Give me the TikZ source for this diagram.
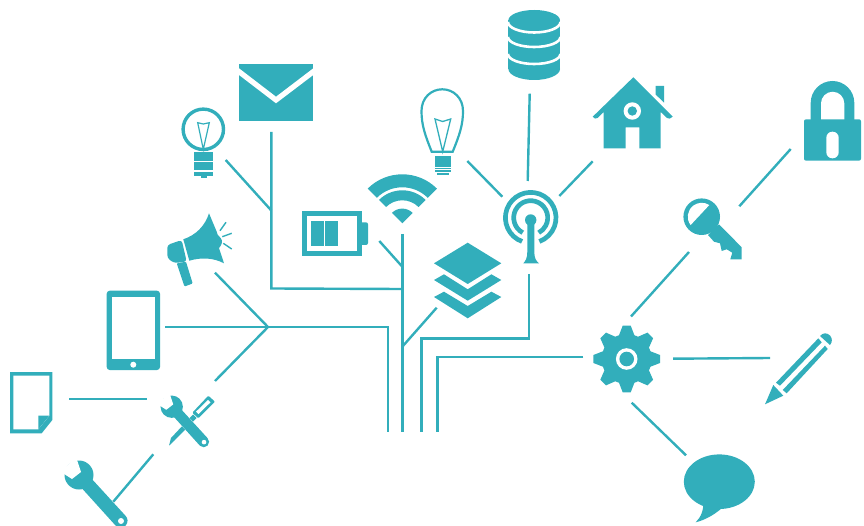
\documentclass[tikz,border=0pt]{standalone}
\usepackage{tikz}
\usepackage[dvipsnames]{xcolor}
\usetikzlibrary{calc}
\definecolor{iconteal}{RGB}{50,174,187}
\tikzset{
    wire/.style={draw=iconteal, line width=2.4pt},
    icon/.style={fill=iconteal},
    cutout/.style={fill=white},
    outline/.style={draw=iconteal, line width=#1},
    wrenchicon/.pic={
        \fill[icon] (0,0) circle (14.5);
        \fill[icon] (-4.6,5.0) -- (36.8,50.8) arc (133:-47:7) -- (5.0,-4.6) -- cycle;
        \fill[cutout] (-3,-18) -- (2,-3) -- (-7,4) -- (-18,-3) -- cycle;
        \fill[cutout] (42,46) circle (3);
    }
}
\begin{document}
\begin{tikzpicture}[x=1pt, y=1pt, yscale=-1]
    \useasboundingbox (0,0) rectangle (864,526);

    \coordinate (hub) at (268,327);
    \coordinate (horn-end) at (215,272.7);
    \coordinate (tablet-end) at (165,327);
    \coordinate (tools-end) at (215,381);
    \coordinate (doc-end) at (69,398.7);
    \coordinate (tools-left) at (147.3,398.7);
    \coordinate (tools-low) at (153.3,454.3);
    \coordinate (wrench-end) at (113.3,501.7);
    \coordinate (bulb-end) at (225.7,160);
    \coordinate (bulb-join) at (271.3,210.5);
    \coordinate (mail-end) at (271.3,132);
    \coordinate (mail-corner) at (271.3,288.5);
    \coordinate (mail-join) at (402.3,289);
    \coordinate (wifi-end) at (402.3,234);
    \coordinate (bus-a) at (387.7,431.7);
    \coordinate (bus-b) at (402.3,431.7);
    \coordinate (bus-c) at (421.5,431.7);
    \coordinate (bus-d) at (437.3,431.7);
    \coordinate (battery-end) at (379.3,241);
    \coordinate (battery-join) at (402.3,266.7);
    \coordinate (stack-end) at (436.7,307.7);
    \coordinate (stack-join) at (402.3,346.7);
    \coordinate (mast-end) at (528.7,274);
    \coordinate (gear-left) at (583.3,356.7);
    \coordinate (db-end) at (529.7,93.7);
    \coordinate (db-low) at (527.7,181);
    \coordinate (bulbtwo-end) at (467.3,161);
    \coordinate (bulbtwo-low) at (502.3,196.7);
    \coordinate (house-end) at (592.7,161.3);
    \coordinate (house-low) at (559.3,196);
    \coordinate (lock-end) at (790.7,149);
    \coordinate (key-up) at (739.3,206.3);
    \coordinate (key-down) at (689,252);
    \coordinate (gear-up) at (631,316.5);
    \coordinate (gear-right) at (673,358.7);
    \coordinate (pencil-end) at (770,358);
    \coordinate (gear-down) at (631.7,402.7);
    \coordinate (bubble-end) at (686,455.3);

    \draw[wire] (horn-end) -- (hub) -- (tools-end);
    \draw[wire] (tablet-end) -- (hub) -- (387.7,327) -- (bus-a);
    \draw[wire] (doc-end) -- (tools-left);
    \draw[wire] (tools-low) -- (wrench-end);
    \draw[wire] (bulb-end) -- (bulb-join);
    \draw[wire] (mail-end) -- (mail-corner) -- (mail-join);
    \draw[wire] (wifi-end) -- (bus-b);
    \draw[wire] (battery-end) -- (battery-join);
    \draw[wire] (stack-end) -- (stack-join);
    \draw[wire] (mast-end) -- (528.7,338.3) -- (421.5,338.3) -- (bus-c);
    \draw[wire] (gear-left) -- (437.3,356.7) -- (bus-d);
    \draw[wire] (db-end) -- (db-low);
    \draw[wire] (bulbtwo-end) -- (bulbtwo-low);
    \draw[wire] (house-end) -- (house-low);
    \draw[wire] (lock-end) -- (key-up);
    \draw[wire] (key-down) -- (gear-up);
    \draw[wire] (gear-right) -- (pencil-end);
    \draw[wire] (gear-down) -- (bubble-end);

    \fill[icon] (10,372) -- (52.3,372) -- (52.3,420) -- (41.7,433.3) -- (10,433.3) -- cycle;
    \fill[cutout] (13.3,375.7) -- (49.3,375.7) -- (49.3,415.7) -- (38.3,429.3) -- (13.3,429.3) -- cycle;
    \fill[icon] (38.3,415.7) -- (49.3,415.7) -- (38.3,429.3) -- cycle;

    \fill[icon, rounded corners=3pt] (106.7,290.7) rectangle (160,370);
    \fill[cutout] (111.7,297.3) rectangle (155,359);
    \fill[cutout] (133.3,364.7) circle (3);

    \pic[transform shape] at (79,475) {wrenchicon};

    \fill[icon] (169,445.7) -- (171,438) -- (193,414.5) -- (196.5,418) -- (174.5,440.5) -- cycle;
    \fill[icon, rounded corners=1pt] (208.3,395.7) -- (215,401.7) -- (198.3,418.3) -- (192.3,412.7) -- cycle;
    \fill[cutout] (208,400) -- (210.5,402.3) -- (198.5,414) -- (196,411.7) -- cycle;
    \draw[white, line width=11pt] (172,407) -- (203,441);
    \pic[transform shape, scale=.77] at (171.7,406.7) {wrenchicon};

    \fill[icon] (209,213.3) .. controls (205,226) and (196,235) .. (183.3,239.3)
        -- (189.3,260.7) .. controls (202,257) and (214,258) .. (224,263.3)
        -- (219,248) .. controls (222,245) and (223,241) .. (220.7,238)
        .. controls (218,236) and (217,234) .. (216.7,231.7) -- cycle;
    \fill[icon, rounded corners=3pt] (181.7,240) -- (167.3,245) -- (167.3,258) -- (174,263)
        -- (186.7,261.7) -- cycle;
    \fill[icon, rounded corners=1pt] (176.7,263.3) -- (184.5,286.5) -- (192.7,283.5) -- (186,261.7) -- cycle;
    \draw[outline=1.4pt] (220,230.7) -- (226,222.3);
    \draw[outline=1.4pt] (222.3,236.7) -- (231.7,233.3);
    \draw[outline=1.4pt] (223.3,243.3) -- (231.7,249);

    \draw[outline=3.4pt] (203.3,129.3) circle (20.2);
    \draw[outline=1.2pt] (197.7,122.7) -- (203.3,124) -- (209.3,122.7) -- (203.3,149.3) -- cycle;
    \fill[icon] (194.3,151.7) rectangle (213.3,160.7);
    \fill[icon] (194.3,162) rectangle (213.3,170);
    \fill[icon] (194.3,171.7) rectangle (213.3,176);
    \fill[icon] (200.7,176) rectangle (206.7,178);

    \fill[icon] (239,64) rectangle (313.3,121);
    \fill[cutout] (239,68.3) -- (276,96.7) -- (313.3,68.3) -- (313.3,75) -- (276,103.3) -- (239,75) -- cycle;

    \fill[icon] (302,211) rectangle (361.7,256);
    \fill[cutout] (307.3,216) rectangle (356.7,250.7);
    \fill[icon] (311,221) rectangle (324,245.7);
    \fill[icon] (325,221) rectangle (337.7,245.7);
    \fill[icon, rounded corners=2pt] (358,222.3) rectangle (368,245);
    \fill[cutout] (356.7,216) rectangle (361.7,250.7);
    \fill[icon] (356.7,211) rectangle (361.7,256);

    \coordinate (wifi-c) at (402.3,223.3);
    \fill[icon] ($(wifi-c)+(-135:49)$) arc (-135:-45:49) -- ($(wifi-c)+(-45:36)$) arc (-45:-135:36) -- cycle;
    \fill[icon] ($(wifi-c)+(-135:33)$) arc (-135:-45:33) -- ($(wifi-c)+(-45:23)$) arc (-45:-135:23) -- cycle;
    \fill[icon] (wifi-c) -- ($(wifi-c)+(-135:14.7)$) arc (-135:-45:14.7) -- cycle;

    \draw[outline=2.2pt] (431.7,151.7) .. controls (425,135) and (421.5,125) .. (421.5,111)
        .. controls (421.5,98) and (431,89.3) .. (442.3,89.3)
        .. controls (453.5,89.3) and (463,98) .. (463,111)
        .. controls (463,125) and (459.5,135) .. (452.7,151.7) -- cycle;
    \draw[outline=1.3pt] (435,119) -- (442.7,121.5) -- (450.7,119) -- (442.7,151.7) -- cycle;
    \fill[icon] (435,156) rectangle (451,166.7);
    \fill[icon] (435,168) rectangle (451,169.2);
    \fill[icon] (435,170.5) rectangle (451,171.7);
    \fill[icon] (437,172.7) rectangle (449,175);

    \fill[icon] (467.7,242.7) -- (501.3,263.3) -- (467.7,284) -- (434,263.3) -- cycle;
    \fill[icon] (444,274.3) -- (467.7,289.3) -- (491.4,274.3) -- (501.3,280) -- (467.7,300.7) -- (434,280) -- cycle;
    \fill[icon] (444,291.7) -- (467.7,306) -- (491.4,291.7) -- (501.3,297) -- (467.7,318.3) -- (434,297) -- cycle;

    \fill[icon] (508.3,20.3) rectangle (560,69);
    \fill[icon] (534.2,20.3) ellipse (25.8 and 10.3);
    \fill[icon] (534.2,69) ellipse (25.8 and 11);
    \draw[white, line width=2.6pt] (508,22) arc (180:0:26.2 and 10.5);
    \draw[white, line width=2.6pt] (508,37) arc (180:0:26.2 and 10);
    \draw[white, line width=2.6pt] (508,54) arc (180:0:26.2 and 10);

    \coordinate (ring-c) at (530.7,217.7);
    \coordinate (mast-c) at (530.7,220);
    \draw[outline=4.7pt] ($(ring-c)+(110:25.3)$) arc (110:430:25.3);
    \draw[outline=4.7pt] ($(ring-c)+(118:17)$) arc (118:422:17);
    \draw[white, line width=3pt] (530.7,232) -- (530.7,258);
    \fill[icon] (mast-c) circle (5.7);
    \fill[icon] (527.3,222) -- (534.3,222) -- (534.3,252) .. controls (534.3,258) and (536,261) .. (539,263.3)
        -- (523.3,263.3) .. controls (525.5,261) and (527.3,258) .. (527.3,252) -- cycle;

    \fill[icon] (633.3,77.3) -- (672.7,116.7) .. controls (671,119) and (668.5,119) .. (667,118)
        -- (660.7,112) -- (660.7,148.3) -- (639.3,148.3) -- (639.3,127.3) -- (625.7,127.3) -- (625.7,148.3)
        -- (603.7,148.3) -- (603.7,112) -- (597.5,118) .. controls (596,119) and (594,119) .. (592.7,116.7) -- cycle;
    \fill[icon] (655.7,86) -- (664,86) -- (664,102.7) -- (655.7,94.5) -- cycle;
    \fill[cutout] (632.3,111) circle (8.7);
    \fill[icon] (632.3,111) circle (4.7);

    \fill[icon] (810.7,125) -- (810.7,102.8) arc (180:360:21.8) -- (854.3,125) -- cycle;
    \fill[cutout] (821,125) -- (821,103.4) arc (180:360:11.65) -- (844.3,125) -- cycle;
    \fill[icon, rounded corners=2pt] (804,119.3) rectangle (861,160.7);
    \fill[cutout, rounded corners=6pt] (826.3,131.7) rectangle (838.7,158.3);

    \fill[icon] (701.7,216.7) circle (18.3);
    \fill[icon] (719,224.3) -- (741.7,247.3) -- (741.7,259.3) -- (730.3,259.3) -- (732.3,252.7) -- (726.7,249.3)
        -- (721.7,251) -- (720,243.3) -- (714,241.7) -- (708,235) -- cycle;
    \fill[cutout] ($(701.7,216.7)+(143:13.9)$) arc (143:303:13.9) -- cycle;

    \fill[icon] (626.7,359) circle (25);
    \foreach \angle in {0,45,...,315} {
        \fill[icon, rotate around={\angle:(626.7,359)}] (618.7,336) -- (622.7,325.7) -- (630.7,325.7) -- (634.7,336) -- cycle;
    }
    \fill[cutout] (626.7,359) circle (10.8);
    \fill[icon] (626.7,359) circle (7.3);

    \fill[icon] (765,404.3) -- (773.3,385) -- (783.3,395.7) -- cycle;
    \fill[icon] (776,382.7) -- (818.3,338.3) -- (821.7,342.3) -- (780,385.7) -- cycle;
    \fill[icon] (782.7,390) -- (825,345.7) -- (827.7,349) -- (786.7,393.3) -- cycle;
    \fill[icon] (820,336) .. controls (823,332.5) and (827,332.5) .. (830,335.5)
        .. controls (832.5,338.5) and (832.5,342) .. (830,345) -- cycle;

    \fill[icon] (719.3,481.7) ellipse (35.5 and 27.3);
    \fill[icon] (703.3,500) .. controls (704,510) and (701,517) .. (695.7,522.3)
        .. controls (705,520) and (714,515) .. (722,508) -- cycle;
\end{tikzpicture}
\end{document}
